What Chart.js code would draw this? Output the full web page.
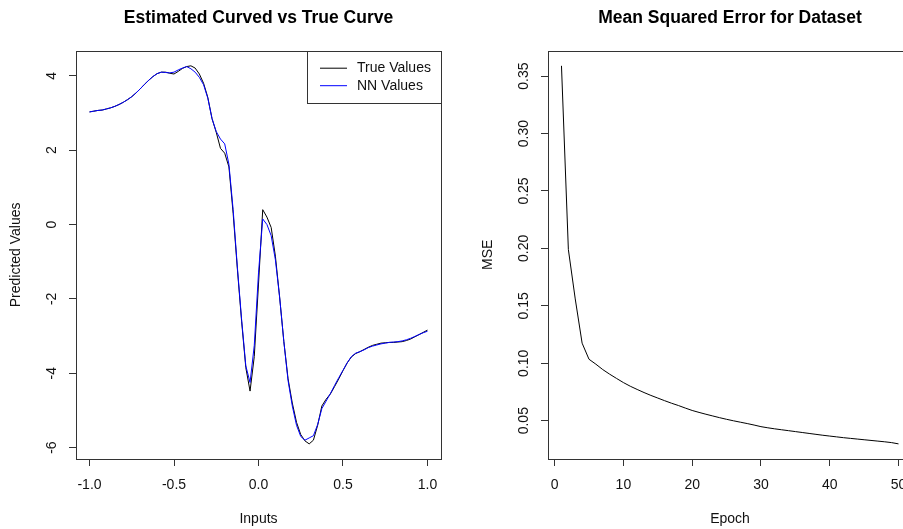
<!DOCTYPE html>
<html>
<head>
<meta charset="utf-8">
<script src="https://cdn.jsdelivr.net/npm/chart.js@4.4.0/dist/chart.umd.min.js"></script>
<style>
  html, body { margin: 0; padding: 0; background: #fff; overflow: hidden; width: 903px; height: 529px; }
  canvas { position: absolute; top: 0; }
  #fit-chart { left: 0; }
  #mse-chart { left: 451px; }
</style>
</head>
<body>
<canvas id="fit-chart" width="451" height="529"></canvas>
<canvas id="mse-chart" width="471" height="529"></canvas>
<script>
// left panel: inputs in [-1, 1]
const inputs = [
  -1.000, -0.975, -0.950, -0.925, -0.900, -0.875, -0.850, -0.825, -0.800, -0.775,
  -0.750, -0.725, -0.700, -0.675, -0.650, -0.625, -0.600, -0.575, -0.550, -0.525,
  -0.500, -0.475, -0.450, -0.425, -0.400, -0.375, -0.350, -0.325, -0.300, -0.275,
  -0.250, -0.225, -0.200, -0.175, -0.150, -0.125, -0.100, -0.075, -0.050, -0.025,
   0.000,  0.025,  0.050,  0.075,  0.100,  0.125,  0.150,  0.175,  0.200,  0.225,
   0.250,  0.275,  0.300,  0.325,  0.350,  0.375,  0.400,  0.425,  0.450,  0.475,
   0.500,  0.525,  0.550,  0.575,  0.600,  0.625,  0.650,  0.675,  0.700,  0.725,
   0.750,  0.775,  0.800,  0.825,  0.850,  0.875,  0.900,  0.925,  0.950,  0.975,
   1.000
];
const trueValues = [
  3.03, 3.05, 3.07, 3.08, 3.11, 3.14, 3.18, 3.23, 3.29, 3.36,
  3.44, 3.54, 3.65, 3.77, 3.88, 3.98, 4.06, 4.10, 4.10, 4.07,
  4.05, 4.12, 4.20, 4.25, 4.27, 4.21, 4.05, 3.80, 3.42, 2.85,
  2.48, 2.05, 1.92, 1.55, 0.30, -1.20, -2.60, -3.85, -4.48, -3.55,
  -1.60, 0.40, 0.20, -0.08, -0.85, -1.95, -3.15, -4.15, -4.80, -5.32,
  -5.65, -5.82, -5.90, -5.80, -5.40, -4.88, -4.70, -4.56, -4.36, -4.15,
  -3.93, -3.72, -3.56, -3.47, -3.42, -3.36, -3.30, -3.25, -3.22, -3.19,
  -3.18, -3.17, -3.17, -3.16, -3.15, -3.12, -3.08, -3.02, -2.96, -2.90,
  -2.84
];
const nnValues = [
  3.03, 3.05, 3.07, 3.08, 3.11, 3.14, 3.18, 3.23, 3.29, 3.36,
  3.44, 3.54, 3.65, 3.77, 3.88, 3.98, 4.06, 4.10, 4.09, 4.08,
  4.10, 4.16, 4.21, 4.25, 4.19, 4.10, 3.96, 3.76, 3.40, 2.85,
  2.50, 2.30, 2.17, 1.62, 0.40, -1.15, -2.55, -3.80, -4.25, -3.25,
  -1.30, 0.15, 0.00, -0.30, -0.95, -1.95, -3.15, -4.20, -4.88, -5.40,
  -5.70, -5.80, -5.74, -5.68, -5.38, -4.95, -4.75, -4.55, -4.33, -4.12,
  -3.92, -3.72, -3.55, -3.46, -3.42, -3.37, -3.31, -3.27, -3.24, -3.21,
  -3.19, -3.17, -3.16, -3.15, -3.13, -3.10, -3.06, -3.01, -2.96, -2.91,
  -2.87
];
const inputTicks = [-1, -0.5, 0, 0.5, 1];
const predTicks = [-6, -4, -2, 0, 2, 4];

// right panel: training error per epoch
const epochs = [
  1, 2, 3, 4, 5, 6, 7, 8, 9, 10, 11, 12, 13, 14, 15, 16, 17, 18, 19, 20, 21, 22, 23, 24, 25,
  26, 27, 28, 29, 30, 31, 32, 33, 34, 35, 36, 37, 38, 39, 40, 41, 42, 43, 44, 45, 46, 47, 48, 49, 50
];
const mseValues = [
  0.359, 0.199, 0.156, 0.1175, 0.1035, 0.0992, 0.0945, 0.0905, 0.0868, 0.0832,
  0.0800, 0.0772, 0.0745, 0.0720, 0.0697, 0.0674, 0.0652, 0.0632, 0.0610, 0.0589,
  0.0572, 0.0556, 0.0541, 0.0526, 0.0512, 0.0499, 0.0487, 0.0475, 0.0462, 0.0448,
  0.0438, 0.0429, 0.0421, 0.0413, 0.0405, 0.0397, 0.0389, 0.0381, 0.0373, 0.0366,
  0.0359, 0.0352, 0.0346, 0.0340, 0.0334, 0.0328, 0.0322, 0.0316, 0.0309, 0.0298
];
const epochTicks = [0, 10, 20, 30, 40, 50];
const mseTicks = [0.05, 0.10, 0.15, 0.20, 0.25, 0.30, 0.35];

const FONT = '"Liberation Sans", Arial, Helvetica, sans-serif';
Chart.defaults.font.family = FONT;
Chart.defaults.color = '#111';

// R pads each axis range by 4%
function rRange(vals) {
  const lo = Math.min(...vals), hi = Math.max(...vals);
  const pad = (hi - lo) * 0.04;
  return [lo - pad, hi + pad];
}

// box around plot area, rotated y labels, optional legend
const rFrame = {
  id: 'rFrame',
  afterDraw(chart, args, opts) {
    const { ctx, chartArea: a } = chart;
    const ys = chart.scales.y;
    ctx.save();
    ctx.strokeStyle = '#333';
    ctx.lineWidth = 1;
    ctx.strokeRect(Math.round(a.left) + 0.5, Math.round(a.top) + 0.5,
      Math.round(a.right - a.left), Math.round(a.bottom - a.top));

    ctx.fillStyle = '#111';
    ctx.font = '14px ' + FONT;
    ctx.textAlign = 'center';
    ctx.textBaseline = 'middle';
    ys.ticks.forEach(t => {
      ctx.save();
      ctx.translate(a.left - 24, ys.getPixelForValue(t.value));
      ctx.rotate(-Math.PI / 2);
      ctx.fillText(opts.fmt(t.value), 0, 0);
      ctx.restore();
    });

    if (opts.legend) {
      const bx = a.right - 134, by = a.top, bh = 52;
      ctx.strokeRect(Math.round(bx) + 0.5, Math.round(by) + 0.5, Math.round(a.right - bx), bh);
      ctx.textAlign = 'left';
      const dsets = chart.data.datasets.slice().sort((p, q) => q.order - p.order);
      dsets.forEach((ds, i) => {
        const ly = by + 17.5 + i * 17.5;
        ctx.strokeStyle = ds.borderColor;
        ctx.beginPath();
        ctx.moveTo(bx + 13, ly);
        ctx.lineTo(bx + 40, ly);
        ctx.stroke();
        ctx.fillText(ds.label, bx + 50, ly);
      });
    }
    ctx.restore();
  }
};

function axisX(range, ticks, fmt, label) {
  return {
    type: 'linear', min: range[0], max: range[1],
    afterBuildTicks: s => { s.ticks = ticks.map(v => ({ value: v })); },
    afterFit: s => { s.height = 70; },
    grid: { drawOnChartArea: false, drawTicks: true, tickLength: 7, color: '#333' },
    border: { display: false },
    ticks: { font: { size: 14 }, padding: 11, maxRotation: 0, autoSkip: false, callback: fmt, color: '#111' },
    title: { display: true, text: label, font: { size: 14 }, padding: { top: 0, bottom: 1 }, color: '#111' }
  };
}

function axisY(range, ticks, width, label, titlePad) {
  return {
    type: 'linear', min: range[0], max: range[1],
    afterBuildTicks: s => { s.ticks = ticks.map(v => ({ value: v })); },
    afterFit: s => { s.width = width; },
    grid: { drawOnChartArea: false, drawTicks: true, tickLength: 7, color: '#333' },
    border: { display: false },
    ticks: { display: false },
    title: { display: true, text: label, font: { size: 14 }, padding: { top: titlePad, bottom: 0 }, color: '#111' }
  };
}

const titleOpts = text => ({
  display: true, text, fullSize: false, color: '#000',
  font: { size: 17.5, weight: 'bold' },
  padding: { top: 8, bottom: 21.7 }
});

new Chart(document.getElementById('fit-chart'), {
  type: 'line',
  data: {
    datasets: [
      { label: 'True Values', order: 1, data: inputs.map((x, i) => ({ x, y: trueValues[i] })),
        borderColor: '#000000', borderWidth: 1, pointRadius: 0, tension: 0 },
      { label: 'NN Values', order: 0, data: inputs.map((x, i) => ({ x, y: nnValues[i] })),
        borderColor: '#0000ff', borderWidth: 1, pointRadius: 0, tension: 0 }
    ]
  },
  options: {
    responsive: false, animation: false, devicePixelRatio: 1,
    layout: { padding: { left: 0, right: 10, top: 0, bottom: 0 } },
    plugins: {
      legend: { display: false }, tooltip: { enabled: false },
      title: titleOpts('Estimated Curved vs True Curve'),
      rFrame: { fmt: v => String(v), legend: true }
    },
    scales: {
      x: axisX(rRange(inputs), inputTicks, v => v.toFixed(1), 'Inputs'),
      y: axisY(rRange(trueValues), predTicks, 76, 'Predicted Values', 7.6)
    }
  },
  plugins: [rFrame]
});

new Chart(document.getElementById('mse-chart'), {
  type: 'line',
  data: {
    datasets: [
      { label: 'MSE', data: epochs.map((x, i) => ({ x, y: mseValues[i] })),
        borderColor: '#000000', borderWidth: 1, pointRadius: 0, tension: 0 }
    ]
  },
  options: {
    responsive: false, animation: false, devicePixelRatio: 1,
    layout: { padding: { left: 0, right: 10, top: 0, bottom: 0 } },
    plugins: {
      legend: { display: false }, tooltip: { enabled: false },
      title: titleOpts('Mean Squared Error for Dataset'),
      rFrame: { fmt: v => v.toFixed(2), legend: false }
    },
    scales: {
      x: axisX(rRange(epochs), epochTicks, v => String(v), 'Epoch'),
      y: axisY(rRange(mseValues), mseTicks, 97, 'MSE', 28.6)
    }
  },
  plugins: [rFrame]
});
</script>
</body>
</html>
